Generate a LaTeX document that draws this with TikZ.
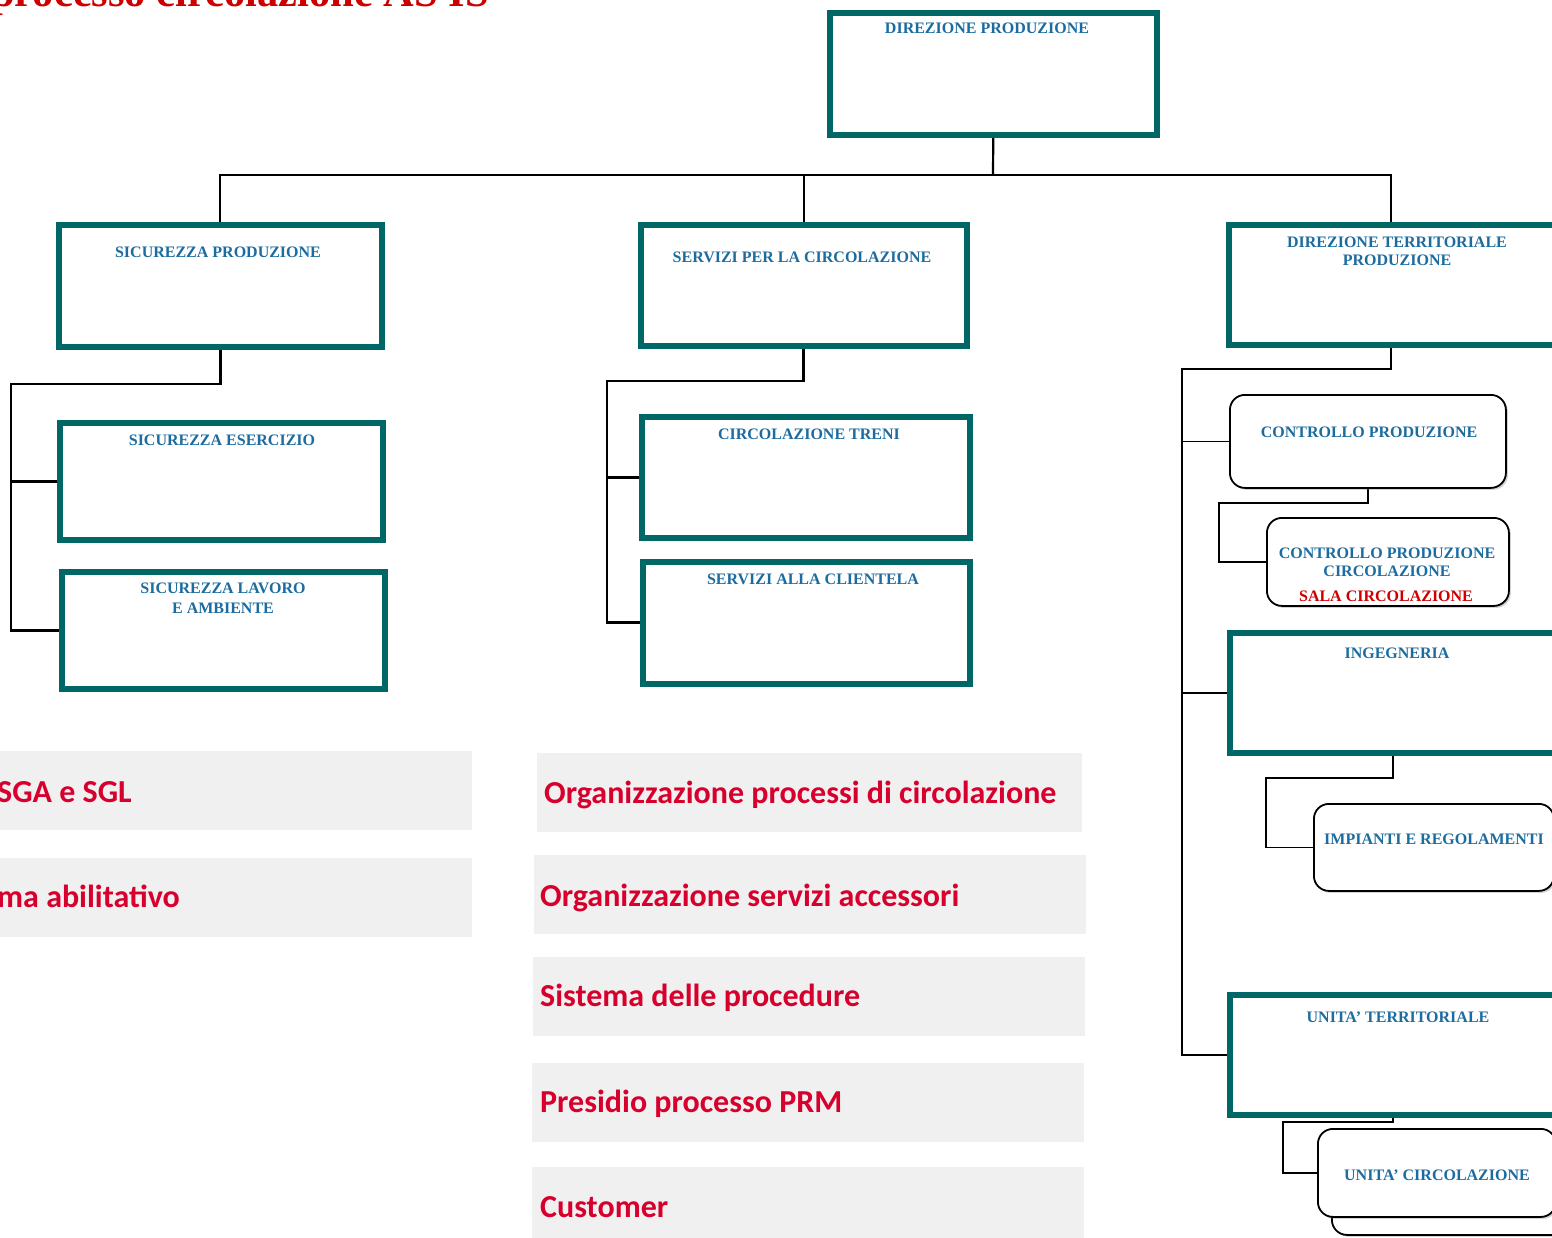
\documentclass[tikz,border=0pt]{standalone}
\usepackage{fontspec}
\setmainfont{Liberation Serif}
\newfontfamily\calib{Carlito}
\usetikzlibrary{shadows,backgrounds}
\definecolor{tealc}{RGB}{0,102,102}
\definecolor{boxtxt}{RGB}{28,108,160}
\definecolor{barred}{RGB}{215,0,45}
\definecolor{titred}{RGB}{204,0,0}
\definecolor{bargrey}{RGB}{240,240,240}
\tikzset{
  tbox/.style={draw=tealc, line width=5.5pt, fill=white, inner sep=0pt, anchor=north west},
  rbox/.style={draw=black, line width=1.8pt, fill=white, rounded corners=15pt, inner sep=0pt, anchor=north west,
     drop shadow={opacity=0.35, shadow xshift=2pt, shadow yshift=-2pt}},
  btxt/.style={text=boxtxt, font=\fontsize{16}{18}\selectfont\bfseries, inner sep=0pt, anchor=base, align=center},
  bar/.style={fill=bargrey, draw=none, inner sep=0pt, anchor=north west},
  bartxt/.style={text=barred, font=\calib\fontsize{32}{36}\selectfont\bfseries, inner sep=0pt, anchor=base west},
  conn/.style={draw=black, line width=2.6pt},
  thinconn/.style={draw=black, line width=1.5pt},
}
\begin{document}
\begin{tikzpicture}[x=1pt, y=-1pt]
\useasboundingbox (0,0) rectangle (1552,1237);
\clip (0,0) rectangle (1552,1237);

% title
\node[anchor=base west, inner sep=0pt, text=titred, font=\fontsize{42.5}{42.5}\selectfont\bfseries] (title) at (-9,6) {processo circolazione AS IS};

% teal boxes
\node[tbox, minimum width=327pt, minimum height=122pt] (dp) at (827,10) {};
\node[tbox, minimum width=323pt, minimum height=122pt] (sp) at (56,222) {};
\node[tbox, minimum width=326pt, minimum height=121pt] (spc) at (638,222) {};
\node[tbox, minimum width=337pt, minimum height=120pt] (dtp) at (1226,222) {};
\node[tbox, minimum width=323pt, minimum height=117pt] (se) at (57,420) {};
\node[tbox, minimum width=323pt, minimum height=117pt] (sla) at (59,569) {};
\node[tbox, minimum width=328pt, minimum height=121pt] (ct) at (639,414) {};
\node[tbox, minimum width=327pt, minimum height=122pt] (sac) at (640,559) {};
\node[tbox, minimum width=336pt, minimum height=120pt] (ing) at (1227,630) {};
\node[tbox, minimum width=337pt, minimum height=120pt] (ut) at (1227,992) {};

% rounded boxes
\node[rbox, minimum width=276pt, minimum height=93pt] (cp) at (1229,394) {};
\node[rbox, minimum width=242pt, minimum height=88pt] (cpc) at (1266,517) {};
\node[rbox, minimum width=240pt, minimum height=87pt] (ir) at (1313,803) {};
\node[rbox, minimum width=238pt, minimum height=88pt] (ucb) at (1331,1146) {};
\node[rbox, minimum width=238pt, minimum height=88pt] (uc) at (1317,1128) {};

% box texts (anchor=base: baseline of the last line)
\node[btxt] (dpt) at (987,33) {DIREZIONE PRODUZIONE};
\node[btxt] (spt) at (218,257.5) {SICUREZZA PRODUZIONE};
\node[btxt] (spct) at (802,262.5) {SERVIZI PER LA CIRCOLAZIONE};
\node[btxt] (dtpt) at (1397,265.5) {DIREZIONE TERRITORIALE\\PRODUZIONE};
\node[btxt] (set) at (222,445.5) {SICUREZZA ESERCIZIO};
\node[btxt] (slat) at (223,613.5) {SICUREZZA LAVORO\\[2pt]E AMBIENTE};
\node[btxt] (ctt) at (809,439.5) {CIRCOLAZIONE TRENI};
\node[btxt] (sact) at (813,584.5) {SERVIZI ALLA CLIENTELA};
\node[btxt] (cpt) at (1369,437.5) {CONTROLLO PRODUZIONE};
\node[btxt] (cpct) at (1387,576.5) {CONTROLLO PRODUZIONE\\CIRCOLAZIONE};
\node[btxt, text=titred] (salat) at (1386,601.5) {SALA CIRCOLAZIONE};
\node[btxt] (ingt) at (1397,658.5) {INGEGNERIA};
\node[btxt] (irt) at (1434,844.5) {IMPIANTI E REGOLAMENTI};
\node[btxt] (utt) at (1398,1022.5) {UNITA' TERRITORIALE};
\node[btxt] (uct) at (1437,1180.5) {UNITA' CIRCOLAZIONE};

% grey bars
\node[bar, minimum width=472pt, minimum height=79pt] (l1) at (0,751) {};
\node[bar, minimum width=472pt, minimum height=79pt] (l2) at (0,858) {};
\node[bar, minimum width=545pt, minimum height=79pt] (b1) at (537,753) {};
\node[bar, minimum width=552pt, minimum height=79pt] (b2) at (534,855) {};
\node[bar, minimum width=552pt, minimum height=79pt] (b3) at (533,957) {};
\node[bar, minimum width=552pt, minimum height=79pt] (b4) at (532,1063) {};
\node[bar, minimum width=552pt, minimum height=75pt] (b5) at (532,1167) {};
\node[bartxt] (l1t) at (-3,802) {SGA e SGL};
\node[bartxt] (l2t) at (-3,907) {ma abilitativo};
\node[bartxt] (b1t) at (544,803) {Organizzazione processi di circolazione};
\node[bartxt] (b2t) at (540,906) {Organizzazione servizi accessori};
\node[bartxt] (b3t) at (540,1006) {Sistema delle procedure};
\node[bartxt] (b4t) at (540,1112) {Presidio processo PRM};
\node[bartxt] (b5t) at (540,1217) {Customer};

% joints
\coordinate (j1) at (993,175);
\coordinate (dtpin) at (1391,222);
\coordinate (c2) at (11,384);
\coordinate (c3) at (607,381);
\coordinate (dtpout) at (1391,347);
\coordinate (c4) at (1182,369);
\coordinate (c5) at (1219,503);
\coordinate (ingout) at (1393,755);
\coordinate (c6) at (1266,778);
\coordinate (utout) at (1393,1117);
\coordinate (c7) at (1283,1122);

% connectors behind boxes
\begin{scope}[on background layer]
\draw[thinconn, line width=2.2pt] (sp.north) |- (j1) -| (dtpin);
\draw[thinconn, line width=2.2pt] (dp.south) -- (j1);
\draw[thinconn, line width=2.2pt] (spc.north) -- (spc.north |- j1);
\draw[conn] (sp.south) |- (c2) |- (sla.west);
\draw[conn] (se.west) -- (se.west -| c2);
\draw[conn] (spc.south) |- (c3) |- (sac.west);
\draw[conn] (ct.west) -- (ct.west -| c3);
\draw[thinconn] (dtpout) |- (c4) |- (ut.west);
\draw[thinconn] (cp.west) -- (cp.west -| c4);
\draw[thinconn] (ing.west) -- (ing.west -| c4);
\draw[thinconn] (cp.south) |- (c5) |- (cpc.west);
\draw[thinconn] (ingout) |- (c6) |- (ir.west);
\draw[thinconn] (utout) |- (c7) |- (uc.west);
\end{scope}
\end{tikzpicture}
\end{document}
